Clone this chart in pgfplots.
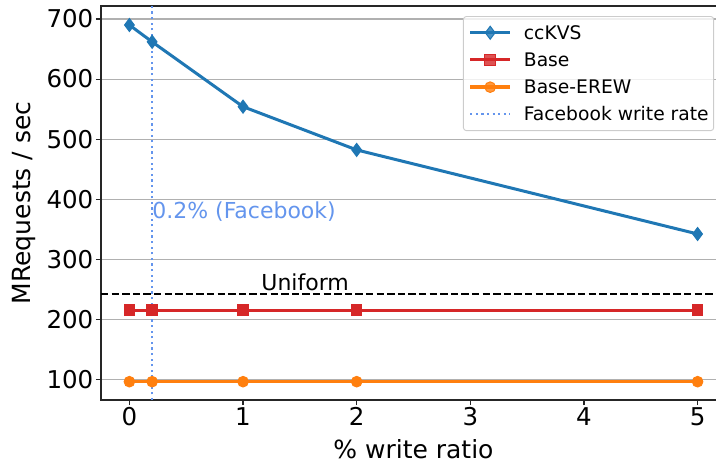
\documentclass[border=0pt]{standalone}
\usepackage{pgfplots}
\pgfplotsset{compat=1.18}
\usepackage{fontspec}
\setmainfont{DejaVu Sans}
\definecolor{tabblue}{HTML}{1F77B4}
\definecolor{tabred}{HTML}{D62728}
\definecolor{taborange}{HTML}{FF7F0E}
\definecolor{cfblue}{HTML}{6495ED}
\definecolor{gridgray}{HTML}{B0B0B0}
\definecolor{legedge}{HTML}{CCCCCC}

\begin{document}
\begin{tikzpicture}
\begin{axis}[
  scale only axis, width=625pt, height=394pt,
  xmin=-0.25, xmax=5.25, ymin=65.5, ymax=721.7,
  axis line style={line width=1.1pt, black!85},
  xtick={0,1,2,3,4,5}, ytick={100,200,300,400,500,600,700},
  xtick pos=left, ytick pos=left,
  tick align=outside, major tick length=5pt,
  tick style={line width=1.1pt, black!85},
  ymajorgrids, grid style={line width=1.1pt, gridgray},
  tick label style={font=\fontsize{24.5}{29}\selectfont, inner sep=2.5pt},
  /pgf/number format/assume math mode=true,
  xlabel={\% write ratio}, ylabel={MRequests / sec},
  label style={font=\fontsize{25}{30}\selectfont},
  xlabel style={at={(axis description cs:0.5,-0.1244)}, anchor=center},
  ylabel style={at={(axis description cs:-0.1232,0.5)}, anchor=center},
  legend cell align=left,
  legend image code/.code={\draw[mark repeat=2,mark phase=2,#1] plot coordinates {(0pt,0pt) (20pt,0pt) (40pt,0pt)};},
  legend style={at={(axis description cs:0.5792,0.9746)}, anchor=north west,
    font=\fontsize{18.7}{22}\selectfont,
    draw=legedge, line width=0.9pt, rounded corners=3pt,
    fill=white, fill opacity=0.8, text opacity=1,
    inner xsep=5pt, inner ysep=8.8pt,
    nodes={inner sep=0pt, text height=14pt, text depth=1pt},
    row sep=12.2pt,
    /tikz/every odd column/.append style={column sep=12pt}},
]
\addplot[black, line width=2pt, dash pattern=on 7.4pt off 3.2pt, forget plot]
  coordinates {(-0.25,242) (5.25,242)};
\addplot[tabblue, line width=3pt, mark=diamond*, mark size=6.5pt, mark options={solid, line width=1pt}]
  coordinates {(0,690) (0.2,662) (1,554) (2,482) (5,342)};
\addlegendentry{ccKVS}
\addplot[tabred, line width=3pt, mark=square*, mark size=5.3pt, mark options={solid, line width=1pt}]
  coordinates {(0,215) (0.2,215) (1,215) (2,215) (5,215)};
\addlegendentry{Base}
\addplot[taborange, line width=3.5pt, mark=*, mark size=5.3pt, mark options={solid, line width=1pt}]
  coordinates {(0,96) (0.2,96) (1,96) (2,96) (5,96)};
\addlegendentry{Base-EREW}
\addplot[cfblue, line width=2.2pt, dash pattern=on 2.2pt off 3.4pt]
  coordinates {(0.2,65.5) (0.2,721.7)};
\addlegendentry{Facebook write rate}
\node[anchor=base west, inner sep=0pt, text=cfblue, font=\fontsize{22}{26}\selectfont]
  at (axis cs:0.2,368) {0.2\% (Facebook)};
\node[anchor=base west, inner sep=0pt, text=black, font=\fontsize{22}{26}\selectfont]
  at (axis cs:1.16,248) {Uniform};
\end{axis}
\pgfresetboundingbox
\path[use as bounding box] (current axis.south west) ++(-101pt,-64pt) rectangle ++(716pt,464pt);
\end{tikzpicture}
\end{document}
